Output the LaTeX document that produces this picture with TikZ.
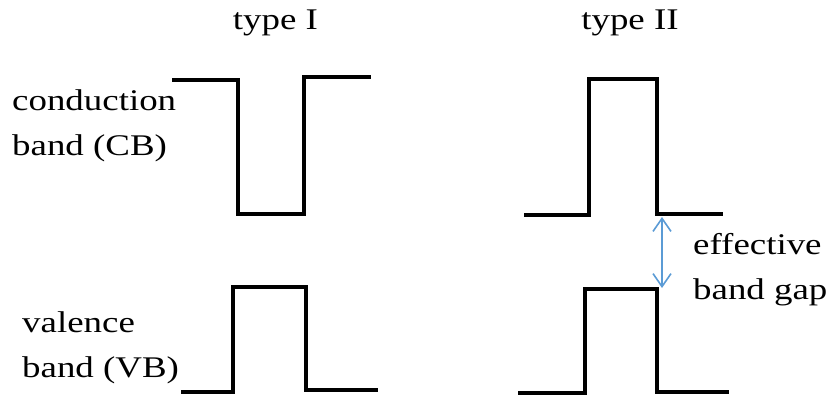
\documentclass[tikz,border=0pt]{standalone}
\usepackage{fontspec}
\setmainfont{Liberation Serif}
\usetikzlibrary{arrows.meta}
\definecolor{gapblue}{RGB}{91,155,213}
\tikzset{
  band/.style={line width=3.2pt, line join=miter, line cap=butt, black},
  lbl/.style={inner sep=0pt, anchor=base west, font=\fontsize{30}{45}\selectfont},
  ttl/.style={inner sep=0pt, anchor=base, font=\fontsize{30}{45}\selectfont},
  gaparrow/.style={gapblue, line width=1.6pt, {Straight Barb[length=13pt,width=18pt,line width=1.6pt]}-{Straight Barb[length=13pt,width=18pt,line width=1.6pt]}}
}
\newcommand{\wide}[1]{\scalebox{1.23}[1]{#1}}
\begin{document}
\begin{tikzpicture}[x=1pt,y=-1pt]
\useasboundingbox (0,0) rectangle (828,400);
% titles
\node[ttl] (t1) at (275.5,29) {\wide{type I}};
\node[ttl] (t2) at (630,29) {\wide{type II}};
% side labels
\node[lbl] (cb) at (12,110) {\wide{\begin{tabular}[t]{@{}l@{}}conduction\\band (CB)\end{tabular}}};
\node[lbl] (vb) at (22,332) {\wide{\begin{tabular}[t]{@{}l@{}}valence\\band (VB)\end{tabular}}};
\node[lbl] (eg) at (693,254) {\wide{\begin{tabular}[t]{@{}l@{}}effective\\band gap\end{tabular}}};
% type I
\draw[band] (172,80) -- (238,80) -- (238,214) -- (304,214) -- (304,77) -- (371,77);
\draw[band] (181,392) -- (233,392) -- (233,287) -- (306,287) -- (306,390) -- (378,390);
% type II
\draw[band] (524,215) -- (589,215) -- (589,79) -- (657,79) -- (657,214) -- (723,214);
\draw[band] (518,393) -- (585,393) -- (585,289) -- (657,289) -- (657,392) -- (729,392);
% effective gap arrow
\coordinate (gtop) at (662,217);
\coordinate (gbot) at (662,288);
\draw[gaparrow] (gtop) -- (gbot);
\end{tikzpicture}
\end{document}
